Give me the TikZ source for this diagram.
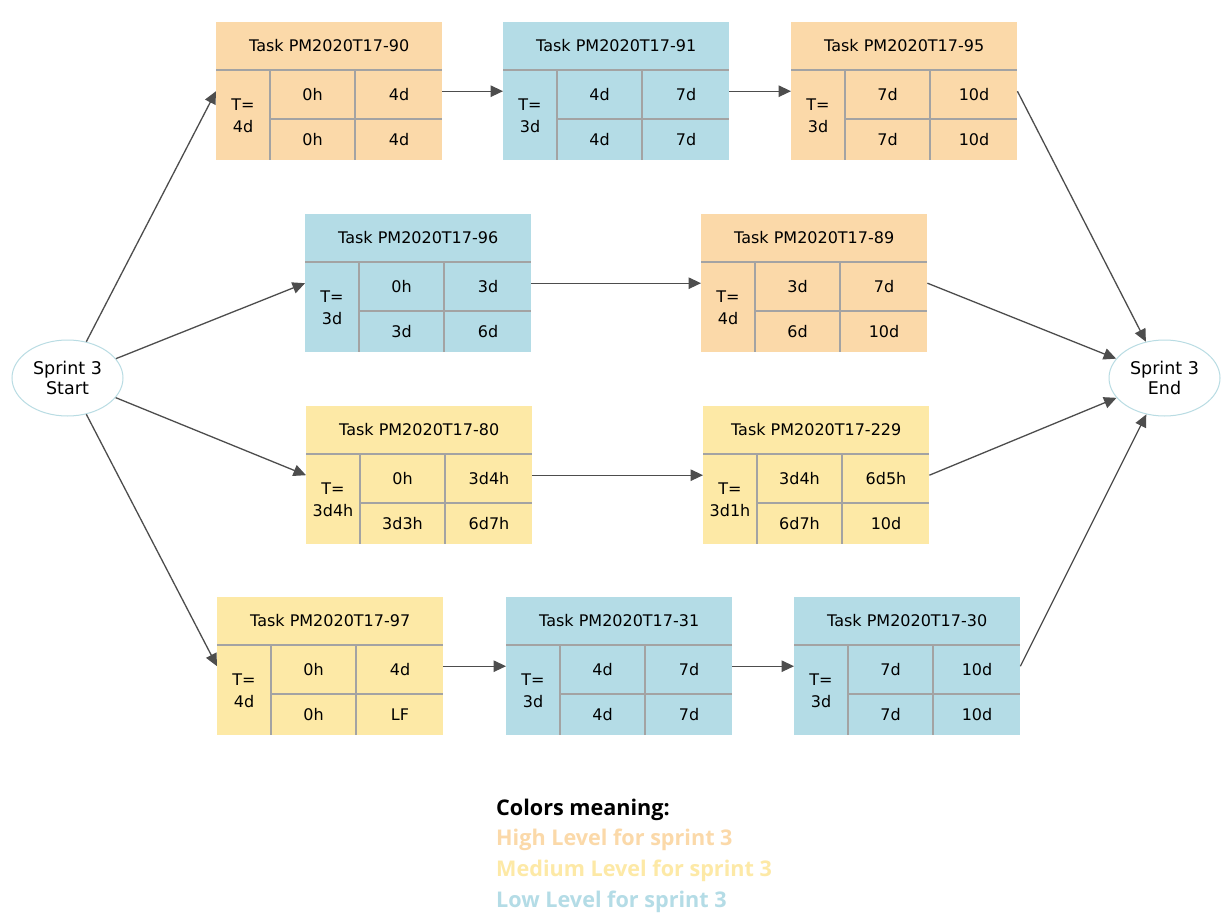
\documentclass[tikz,border=0pt]{standalone}
\usepackage{fontspec}
\setmainfont{DejaVu Sans}
\newfontfamily\legfont{Open Sans}
\usetikzlibrary{calc,shapes.geometric,arrows.meta}
\definecolor{peach}{HTML}{FBD9A9}
\definecolor{lblue}{HTML}{B4DCE6}
\definecolor{lyel}{HTML}{FDE9A6}
\definecolor{gridc}{HTML}{A3A3A3}
\definecolor{arrc}{HTML}{4D4D4D}
\definecolor{ellc}{HTML}{B9DCE3}
\tikzset{
 taskbox/.style={rectangle, minimum width=226pt, minimum height=138pt, inner sep=0pt, anchor=north west},
 gridline/.style={draw=gridc, line width=1.3pt},
 celltxt/.style={inner sep=0pt, font=\fontsize{16}{22}\selectfont, align=center},
 conn/.style={draw=arrc, line width=1.3pt, -{Triangle[length=12.5pt,width=11.5pt]}},
 sprint/.style={ellipse, draw=ellc, line width=1pt, fill=white, minimum width=111pt, minimum height=76pt, inner sep=0pt, align=center, font=\fontsize{17.5}{20}\selectfont},
 legtxt/.style={anchor=base west, inner sep=0pt, font=\legfont\bfseries\fontsize{21.6}{24}\selectfont},
}
\newcommand{\tbox}[9]{%
 \node[taskbox, fill=#3] (#1) at (#2) {};
 \draw[gridline] ($(#1.north west)+(0,48)$) -- ($(#1.north east)+(0,48)$);
 \draw[gridline] ($(#1.north west)+(54,97)$) -- ($(#1.north east)+(0,97)$);
 \draw[gridline] ($(#1.north west)+(54,48)$) -- ($(#1.south west)+(54,0)$);
 \draw[gridline] ($(#1.north west)+(139,48)$) -- ($(#1.south west)+(139,0)$);
 \node[celltxt] (#1-title) at ($(#1.north)+(0,24)$) {#4};
 \node[celltxt] (#1-t) at ($(#1.north west)+(27,94)$) {T=\\#5};
 \node[celltxt] (#1-a) at ($(#1.north west)+(96.5,73)$) {#6};
 \node[celltxt] (#1-b) at ($(#1.north west)+(183,73)$) {#7};
 \node[celltxt] (#1-c) at ($(#1.north west)+(96.5,118)$) {#8};
 \node[celltxt] (#1-d) at ($(#1.north west)+(183,118)$) {#9};
}
\begin{document}
\begin{tikzpicture}[x=1pt,y=-1pt]
\useasboundingbox[fill=white] (0,0) rectangle (1228,918);
\tbox{A}{216,22}{peach}{Task PM2020T17-90}{4d}{0h}{4d}{0h}{4d}
\tbox{B}{503,22}{lblue}{Task PM2020T17-91}{3d}{4d}{7d}{4d}{7d}
\tbox{C}{791,22}{peach}{Task PM2020T17-95}{3d}{7d}{10d}{7d}{10d}
\tbox{D}{305,214}{lblue}{Task PM2020T17-96}{3d}{0h}{3d}{3d}{6d}
\tbox{E}{701,214}{peach}{Task PM2020T17-89}{4d}{3d}{7d}{6d}{10d}
\tbox{F}{306,406}{lyel}{Task PM2020T17-80}{3d4h}{0h}{3d4h}{3d3h}{6d7h}
\tbox{G}{703,406}{lyel}{Task PM2020T17-229}{3d1h}{3d4h}{6d5h}{6d7h}{10d}
\tbox{H}{217,597}{lyel}{Task PM2020T17-97}{4d}{0h}{4d}{0h}{LF}
\tbox{I}{506,597}{lblue}{Task PM2020T17-31}{3d}{4d}{7d}{4d}{7d}
\tbox{J}{794,597}{lblue}{Task PM2020T17-30}{3d}{7d}{10d}{7d}{10d}
\node[sprint] (start) at (67.5,378) {Sprint 3\\Start};
\node[sprint] (end) at (1164.5,378) {Sprint 3\\End};
\draw[conn] (start) -- (A.west);
\draw[conn] (start) -- (D.west);
\draw[conn] (start) -- (F.west);
\draw[conn] (start) -- (H.west);
\draw[conn] (A.east) -- (B.west);
\draw[conn] (B.east) -- (C.west);
\draw[conn] (D.east) -- (E.west);
\draw[conn] (F.east) -- (G.west);
\draw[conn] (H.east) -- (I.west);
\draw[conn] (I.east) -- (J.west);
\draw[conn] (C.east) -- (end);
\draw[conn] (E.east) -- (end);
\draw[conn] (G.east) -- (end);
\draw[conn] (J.east) -- (end);
\node[legtxt, text=black] (leg0) at (496,815) {Colors meaning:};
\node[legtxt, text=peach] (leg1) at (496,845.5) {High Level for sprint 3};
\node[legtxt, text=lyel] (leg2) at (496,876.5) {Medium Level for sprint 3};
\node[legtxt, text=lblue] (leg3) at (496,907.5) {Low Level for sprint 3};
\end{tikzpicture}
\end{document}
